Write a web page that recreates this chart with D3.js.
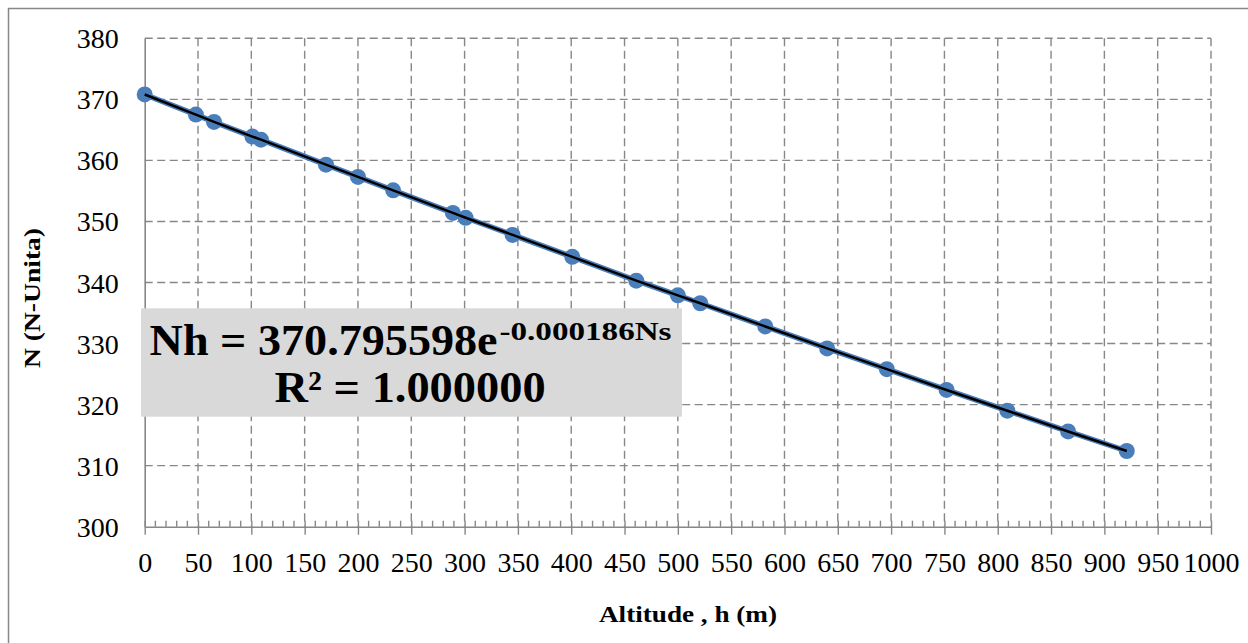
<!DOCTYPE html>
<html>
<head>
<meta charset="utf-8">
<script src="https://cdn.jsdelivr.net/npm/d3@7"></script>
<style>
  body { margin: 0; background: #fff; }
  svg { display: block; }
  .tick text { font-family: "Liberation Serif", serif; font-size: 28px; fill: #000; }
</style>
</head>
<body>
<svg id="chart" width="1248" height="643"></svg>
<script>
const width = 1248;
const height = 643;

// altitude (m) and refractivity N
const altitude = [0, 48, 65, 101, 109, 170, 200, 233, 289, 301, 345, 401, 461, 500, 521, 582, 640, 696, 752, 809, 866, 921];
const refractivity = [370.8, 367.5, 366.3, 363.9, 363.4, 359.3, 357.3, 355.1, 351.4, 350.6, 347.8, 344.2, 340.3, 337.9, 336.6, 332.8, 329.2, 325.8, 322.4, 319.0, 315.6, 312.4];

const xTicks = [0, 50, 100, 150, 200, 250, 300, 350, 400, 450, 500, 550, 600, 650, 700, 750, 800, 850, 900, 950, 1000];
const yTicks = [300, 310, 320, 330, 340, 350, 360, 370, 380];

const eqMain = "Nh = 370.795598e";
const eqExp = "-0.000186Ns";
const eqR2 = "R\u00B2 = 1.000000";
const xTitle = "Altitude , h (m)";
const yTitle = "N (N-Unita)";

const data = altitude.map((h, i) => ({ h: h, n: refractivity[i] }));

const plot = { left: 144.7, right: 1211, top: 38.3, bottom: 526.7 };
const gridColor = '#878787';
const blue = '#4a7ebb';

const xScale = d3.scaleLinear().domain([0, 1000]).range([plot.left, plot.right]);
const yScale = d3.scaleLinear().domain([300, 380]).range([plot.bottom, plot.top]);

const svg = d3.select('#chart');

svg.append('rect')
    .attr('width', width).attr('height', height)
    .attr('fill', '#fff');

// outer chart border (runs past the right and bottom edge)
svg.append('rect')
    .attr('x', 8.5).attr('y', 8.5)
    .attr('width', 1300).attr('height', 700)
    .attr('fill', 'none')
    .attr('stroke', gridColor)
    .attr('stroke-width', 1.5);

// dashed gridlines
svg.append('g')
    .selectAll('line')
    .data(yTicks.filter(d => d > 300))
    .enter().append('line')
    .attr('x1', plot.left).attr('x2', plot.right)
    .attr('y1', d => yScale(d)).attr('y2', d => yScale(d))
    .attr('stroke', gridColor)
    .attr('stroke-width', 1.4)
    .attr('stroke-dasharray', '8,4.5');

svg.append('g')
    .selectAll('line')
    .data(xTicks.filter(d => d > 0))
    .enter().append('line')
    .attr('x1', d => xScale(d)).attr('x2', d => xScale(d))
    .attr('y1', plot.top).attr('y2', plot.bottom)
    .attr('stroke', gridColor)
    .attr('stroke-width', 1.4)
    .attr('stroke-dasharray', '8,4.5');

// minor ticks on the x axis (inside)
svg.append('g')
    .selectAll('line')
    .data(d3.range(0, 1001, 10).filter(d => d % 50 !== 0))
    .enter().append('line')
    .attr('x1', d => xScale(d)).attr('x2', d => xScale(d))
    .attr('y1', plot.bottom - 6).attr('y2', plot.bottom)
    .attr('stroke', gridColor)
    .attr('stroke-width', 1.4);

// x axis
const xAxis = d3.axisBottom(xScale)
    .tickValues(xTicks)
    .tickFormat(d3.format('d'))
    .tickSizeOuter(0)
    .tickSizeInner(8);

const gx = svg.append('g')
    .attr('transform', `translate(0, ${plot.bottom})`)
    .call(xAxis);
gx.select('.domain').attr('stroke', gridColor).attr('stroke-width', 1.6);
gx.selectAll('.tick line')
    .attr('y1', -6).attr('y2', 8)
    .attr('stroke', gridColor).attr('stroke-width', 1.4);
gx.selectAll('.tick text')
    .attr('y', 45).attr('dy', 0)
    .attr('font-family', null).attr('font-size', null);

// y axis
const yAxis = d3.axisLeft(yScale)
    .tickValues(yTicks)
    .tickSizeOuter(0)
    .tickSizeInner(0)
    .tickPadding(26);

const gy = svg.append('g')
    .attr('transform', `translate(${plot.left}, 0)`)
    .call(yAxis);
gy.select('.domain').attr('stroke', gridColor).attr('stroke-width', 1.6);
gy.selectAll('.tick text')
    .attr('font-family', null).attr('font-size', null)
    .attr('dy', '0.34em');

// axis titles
svg.append('text')
    .attr('x', 688).attr('y', 622)
    .attr('text-anchor', 'middle')
    .attr('font-family', '"Liberation Serif", serif')
    .attr('font-weight', 'bold')
    .attr('font-size', 24)
    .attr('textLength', 178)
    .attr('lengthAdjust', 'spacingAndGlyphs')
    .text(xTitle);

svg.append('text')
    .attr('transform', 'translate(40, 298) rotate(-90)')
    .attr('text-anchor', 'middle')
    .attr('font-family', '"Liberation Serif", serif')
    .attr('font-weight', 'bold')
    .attr('font-size', 24)
    .attr('textLength', 140)
    .attr('lengthAdjust', 'spacingAndGlyphs')
    .text(yTitle);

// trendline label box
svg.append('rect')
    .attr('x', 141).attr('y', 308.3)
    .attr('width', 541).attr('height', 108.4)
    .attr('fill', '#d9d9d9');

svg.append('text')
    .attr('x', 149.6).attr('y', 355)
    .attr('font-family', '"Liberation Serif", serif')
    .attr('font-weight', 'bold')
    .attr('font-size', 44)
    .attr('textLength', 348)
    .attr('lengthAdjust', 'spacingAndGlyphs')
    .text(eqMain);

svg.append('text')
    .attr('x', 499.5).attr('y', 340)
    .attr('font-family', '"Liberation Serif", serif')
    .attr('font-weight', 'bold')
    .attr('font-size', 25)
    .attr('textLength', 172)
    .attr('lengthAdjust', 'spacingAndGlyphs')
    .text(eqExp);

svg.append('text')
    .attr('x', 274.6).attr('y', 401.7)
    .attr('font-family', '"Liberation Serif", serif')
    .attr('font-weight', 'bold')
    .attr('font-size', 44)
    .attr('textLength', 271)
    .attr('lengthAdjust', 'spacingAndGlyphs')
    .text(eqR2);

// series line + markers
const line = d3.line()
    .x(d => xScale(d.h))
    .y(d => yScale(d.n));

svg.append('path')
    .datum(data)
    .attr('d', line)
    .attr('fill', 'none')
    .attr('stroke', blue)
    .attr('stroke-width', 5.5);

svg.selectAll('circle.dot')
    .data(data)
    .enter().append('circle')
    .attr('class', 'dot')
    .attr('cx', d => xScale(d.h))
    .attr('cy', d => yScale(d.n))
    .attr('r', 8)
    .attr('fill', blue);

// exponential trendline (sits on the points)
svg.append('path')
    .datum(data)
    .attr('d', line)
    .attr('fill', 'none')
    .attr('stroke', '#000')
    .attr('stroke-width', 2.5);
</script>
</body>
</html>
